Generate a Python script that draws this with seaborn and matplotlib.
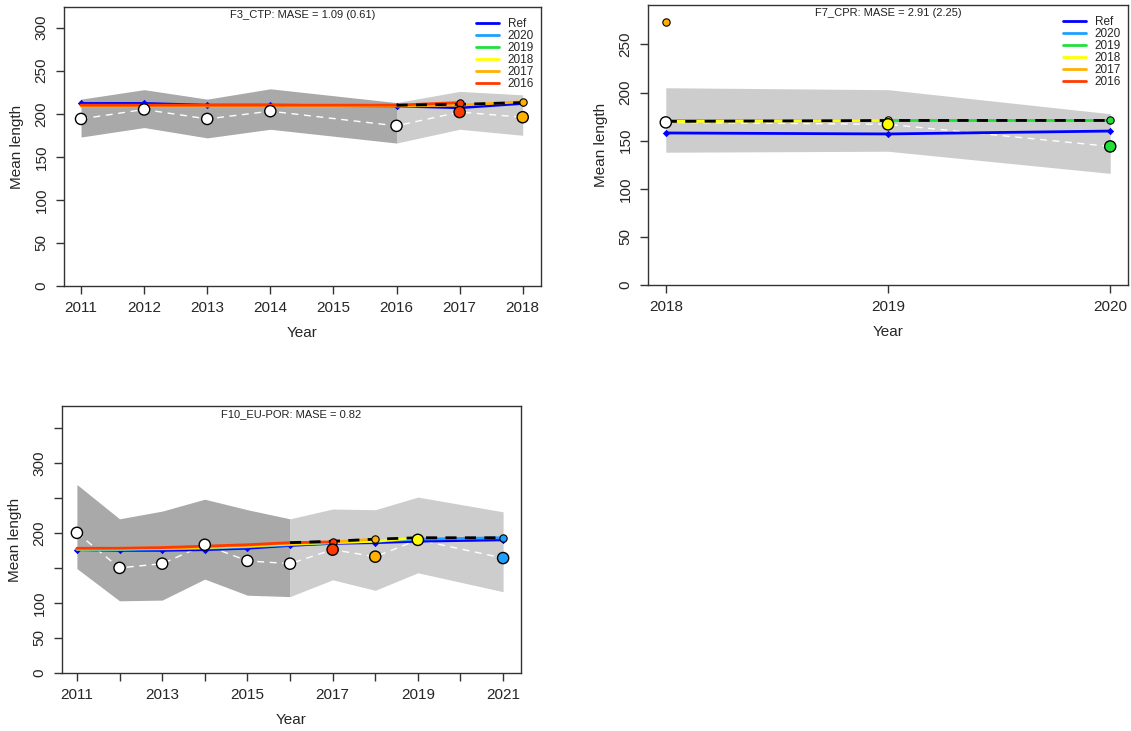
import numpy as np
import pandas as pd
import matplotlib
matplotlib.use("Agg")
import matplotlib.pyplot as plt
from matplotlib.lines import Line2D
import seaborn as sns

# -------------------- data --------------------
peel_names = ["Ref", "2020", "2019", "2018", "2017", "2016"]
peel_colors = ["#0000FF", "#1EA0FF", "#22E03C", "#FFFF00", "#FFB000", "#FF3A00"]
dark_end = 2016  # fit period (dark band) ends here

# F3_CTP
p1_years = [2011, 2012, 2013, 2014, 2016, 2017, 2018]
p1_obs = [194, 205, 194, 203, 186, 202, 196]
p1_upper = [217, 228, 217, 229, 213, 226, 222]
p1_lower = [173, 184, 172, 182, 166, 182, 175]
p1_ref = [212, 212, 210, 210, 209, 207, 212]
p1_peels = {
    "2017": [209, 209, 209, 209, 209, 210, 214],
    "2016": [210, 210, 210, 210, 210, 213],
}
p1_dash_years = [2016, 2017, 2018]
p1_dash = [210, 211, 213]
p1_obs_col = ["white", "white", "white", "white", "white", "2016", "2017"]

# F7_CPR
p2_years = [2018, 2019, 2020]
p2_obs = [169, 167, 144]
p2_upper = [205, 203, 178]
p2_lower = [138, 139, 116]
p2_ref = [158, 157, 160]
p2_peels = {
    "2019": [171, 171, 171],
    "2018": [170, 171],
    "2017": [273],
}
p2_dash_years = [2018, 2019, 2020]
p2_dash = [170, 171, 171]
p2_obs_col = ["white", "2018", "2019"]

# F10_EU-POR
p3_years = [2011, 2012, 2013, 2014, 2015, 2016, 2017, 2018, 2019, 2021]
p3_obs = [200, 150, 156, 183, 160, 156, 176, 166, 190, 164]
p3_upper = [269, 220, 231, 248, 233, 220, 234, 233, 251, 230]
p3_lower = [149, 103, 104, 134, 111, 109, 133, 118, 143, 116]
p3_ref = [176, 175, 175, 176, 178, 182, 185, 186, 188, 190]
p3_peels = {
    "2020": [176, 176, 177, 178, 180, 183, 186, 188, 191, 193],
    "2018": [177, 177, 178, 179, 181, 184, 186, 188, 193],
    "2017": [177, 178, 178, 180, 182, 185, 187, 191],
    "2016": [178, 178, 179, 181, 183, 186, 187],
}
p3_dash_years = [2016, 2017, 2018, 2019, 2021]
p3_dash = [186, 188, 191, 193, 193]
p3_obs_col = ["white"] * 6 + ["2016", "2017", "2018", "2020"]

titles = ["F3_CTP: MASE = 1.09 (0.61)", "F7_CPR: MASE = 2.91 (2.25)", "F10_EU-POR: MASE = 0.82"]

# -------------------- plotting --------------------
sns.set_style("ticks")
plt.rcParams["font.family"] = ["Liberation Sans", "DejaVu Sans"]
col = dict(zip(peel_names, peel_colors))
col["white"] = "white"

fig = plt.figure(figsize=(11.31, 7.31), dpi=100)
W, H = 1131, 731


def make_ax(l, r, t, b):
    return fig.add_axes([l / W, 1 - b / H, (r - l) / W, (b - t) / H])


def panel(ax, years, obs, upper, lower, ref, peels, dyears, dash, obs_col, title,
          xlim, ylim, yticks, ylabels, xticks, xlabels, legend):
    yrs = np.array(years)
    up = np.array(upper)
    lo = np.array(lower)
    # uncertainty band, dark for fit period, light for hindcast period
    m1 = yrs <= dark_end
    m2 = yrs >= dark_end
    if m1.sum() > 1:
        ax.fill_between(yrs[m1], lo[m1], up[m1], color="#A9A9A9", lw=0, zorder=1)
    if m2.sum() > 1:
        ax.fill_between(yrs[m2], lo[m2], up[m2], color="#CDCDCD", lw=0, zorder=1)
    # observations dashed white line
    sns.lineplot(x=years, y=obs, ax=ax, color="white", lw=1, ls=(0, (5, 4)), zorder=2)
    # reference model
    sns.lineplot(x=years, y=ref, ax=ax, color=col["Ref"], lw=2, zorder=3)
    sns.scatterplot(x=years, y=ref, ax=ax, color=col["Ref"], marker="D", s=14,
                    linewidth=0, zorder=3)
    # peels
    for name, vals in peels.items():
        py = years[:len(vals)]
        if len(vals) > 1:
            sns.lineplot(x=py, y=vals, ax=ax, color=col[name], lw=2, zorder=4)
    sns.lineplot(x=dyears, y=dash, ax=ax, color="black", lw=2, ls=(0, (4, 3)), zorder=5)
    for name, vals in peels.items():
        py = years[len(vals) - 1]
        sns.scatterplot(x=[py], y=[vals[-1]], ax=ax, color=col[name], s=28,
                        edgecolor="black", linewidth=0.8, zorder=6)
    # observed points
    sns.scatterplot(x=years, y=obs, ax=ax, hue=obs_col, palette=col, s=65,
                    edgecolor="black", linewidth=1, zorder=7, legend=False)

    ax.set_xlim(*xlim)
    ax.set_ylim(*ylim)
    ax.set_xticks(xticks)
    ax.set_xticklabels(xlabels, fontsize=11)
    ax.set_yticks(yticks)
    ax.set_yticklabels(ylabels, fontsize=11, rotation=90, va="center")
    ax.tick_params(direction="out", length=6, width=1, color="#333333", pad=5)
    for s in ax.spines.values():
        s.set_color("#333333")
        s.set_linewidth(1)
    ax.set_xlabel("Year", fontsize=11, labelpad=8)
    ax.set_ylabel("Mean length", fontsize=11, labelpad=8)
    ax.text(0.5, 0.99, title, transform=ax.transAxes, ha="center", va="top",
            fontsize=8, color="#222222")
    if legend:
        handles = [Line2D([], [], color=c, lw=2) for c in peel_colors]
        ax.legend(handles, peel_names, loc="upper right", frameon=False, fontsize=8.5,
                  handlelength=2.0, handletextpad=0.7, labelspacing=0.0,
                  borderaxespad=0.2, bbox_to_anchor=(1.0, 0.985))


ax1 = make_ax(64, 541, 7, 286)
panel(ax1, p1_years, p1_obs, p1_upper, p1_lower, p1_ref, p1_peels, p1_dash_years, p1_dash,
      p1_obs_col, titles[0], (2010.73, 2018.29), (0, 324), list(range(0, 301, 50)),
      [str(v) for v in range(0, 301, 50)], list(range(2011, 2019)),
      [str(v) for v in range(2011, 2019)], True)

ax2 = make_ax(648, 1128, 5, 285)
panel(ax2, p2_years, p2_obs, p2_upper, p2_lower, p2_ref, p2_peels, p2_dash_years, p2_dash,
      p2_obs_col, titles[1], (2017.92, 2020.08), (0, 291), list(range(0, 251, 50)),
      [str(v) for v in range(0, 251, 50)], [2018, 2019, 2020],
      ["2018", "2019", "2020"], True)

p3_ylabels = ["0", "50", "100", "", "200", "", "300", ""]
p3_xlabels = ["2011", "", "2013", "", "2015", "", "2017", "", "2019", "", "2021"]
ax3 = make_ax(62, 521, 406, 673)
panel(ax3, p3_years, p3_obs, p3_upper, p3_lower, p3_ref, p3_peels, p3_dash_years, p3_dash,
      p3_obs_col, titles[2], (2010.65, 2021.42), (0, 381), list(range(0, 351, 50)),
      p3_ylabels, list(range(2011, 2022)), p3_xlabels, False)

fig.savefig("out.png", dpi=100, facecolor="white")
